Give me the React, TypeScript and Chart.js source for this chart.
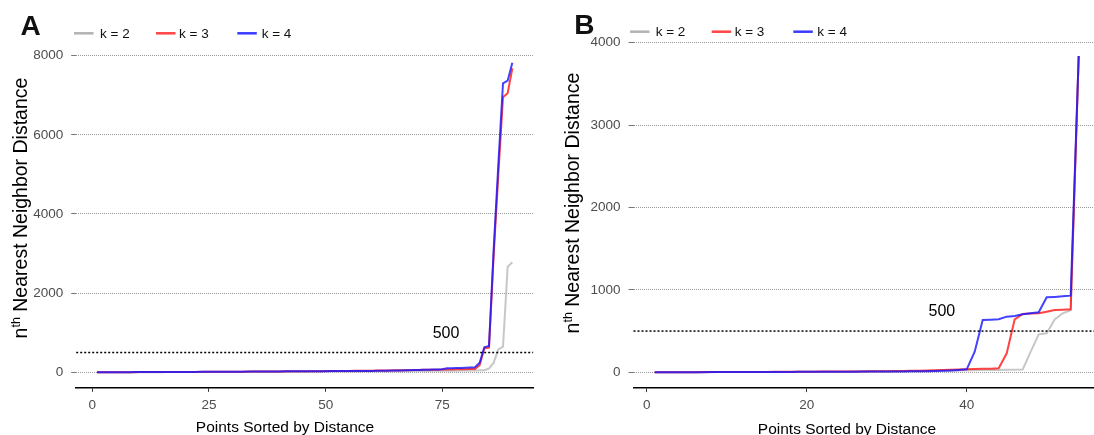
import React, { useEffect, useRef } from "react";
import { Chart, registerables } from "chart.js";
Chart.register(...registerables);

// ---------- data ----------
const seriesLabels = ["k = 2", "k = 3", "k = 4"];
const threshold = 500;

// Panel A (90 points)
const panelA_k2 = [
  0, 0, 0, 1, 1, 1, 2, 2, 2, 3,
  3, 3, 4, 4, 4, 5, 5, 5, 6, 6,
  6, 7, 7, 7, 8, 8, 8, 9, 9, 10,
  10, 10, 11, 11, 12, 12, 13, 13, 14, 14,
  15, 15, 16, 16, 17, 17, 18, 18, 19, 19,
  20, 20, 21, 21, 22, 22, 23, 24, 24, 25,
  26, 26, 27, 28, 29, 30, 31, 32, 33, 34,
  35, 36, 37, 38, 39, 40, 41, 42, 43, 45,
  46, 48, 50, 55, 95, 243, 581, 647, 2668, 2780,
];
const panelA_k3 = [
  0, 1, 1, 2, 2, 3, 3, 4, 4, 5,
  5, 6, 6, 7, 7, 8, 8, 9, 9, 10,
  10, 11, 11, 12, 12, 13, 14, 14, 15, 15,
  16, 17, 17, 18, 19, 19, 20, 21, 21, 22,
  23, 24, 24, 25, 26, 27, 28, 29, 30, 31,
  32, 33, 34, 35, 36, 37, 38, 40, 41, 42,
  44, 45, 47, 48, 50, 52, 54, 56, 58, 60,
  62, 64, 66, 68, 70, 72, 74, 76, 78, 80,
  82, 85, 180, 606, 625, 2950, 5000, 6949, 7050, 7682,
];
const panelA_k4 = [
  1, 1, 2, 2, 3, 3, 4, 4, 5, 5,
  6, 6, 7, 7, 8, 8, 9, 9, 10, 10,
  11, 11, 12, 12, 13, 13, 14, 15, 15, 16,
  17, 17, 18, 19, 19, 20, 21, 22, 22, 23,
  24, 24, 25, 26, 26, 27, 28, 29, 29, 30,
  31, 31, 32, 33, 33, 34, 34, 35, 35, 36,
  37, 39, 41, 43, 45, 47, 50, 53, 56, 60,
  63, 66, 70, 74, 80, 100, 104, 108, 112, 116,
  120, 126, 243, 632, 665, 3100, 5250, 7303, 7368, 7823,
];

// Panel B (54 points)
const panelB_k2 = [
  0, 0, 0, 0, 1, 1, 1, 1, 2, 2,
  2, 2, 3, 3, 3, 4, 4, 4, 5, 5,
  5, 6, 6, 7, 7, 8, 8, 9, 9, 10,
  11, 12, 13, 14, 15, 16, 18, 20, 22, 24,
  26, 27, 28, 29, 30, 32, 34, 250, 460, 473,
  640, 716, 752, 3839,
];
const panelB_k3 = [
  0, 0, 0, 1, 1, 1, 2, 2, 2, 3,
  3, 3, 4, 4, 4, 5, 5, 6, 6, 7,
  7, 8, 8, 9, 9, 10, 11, 12, 13, 14,
  15, 16, 18, 20, 22, 24, 27, 30, 33, 36,
  40, 42, 44, 48, 230, 643, 707, 712, 716, 735,
  756, 760, 765, 3839,
];
const panelB_k4 = [
  0, 0, 0, 1, 1, 1, 1, 2, 2, 2,
  2, 3, 3, 3, 3, 4, 4, 4, 5, 5,
  5, 6, 6, 6, 7, 7, 8, 8, 9, 9,
  10, 11, 12, 13, 14, 16, 18, 22, 28, 36,
  250, 635, 638, 643, 675, 683, 704, 715, 728, 910,
  915, 922, 930, 3839,
];

const panelA_xTicks = [0, 25, 50, 75];
const panelA_yTicks = [0, 2000, 4000, 6000, 8000];
const panelB_xTicks = [0, 20, 40];
const panelB_yTicks = [0, 1000, 2000, 3000, 4000];

// ---------- styles ----------
const FONT = '"Liberation Sans", Arial, Helvetica, sans-serif';
const LINE_COLORS = ["rgba(185,185,185,0.8)", "rgba(255,20,20,0.8)", "rgba(25,25,255,0.82)"];
const LEGEND_COLORS = ["#b3b3b3", "#ff4545", "#3a3aff"];
const H = 435;

type PanelCfg = {
  letter: string;
  series: number[][];
  xTicks: number[];
  yTicks: number[];
  left: number;
  canvasW: number;
  area: { left: number; right: number; top: number; bottom: number };
  letterX: number;
  letterY: number;
  legendY: number;
  legendLineX: number[];
  legendTextX: number[];
  yTitleX: number;
  yTitleCY: number;
  xTitleCX: number;
  xTitleY: number;
  labelX: number;
};

const panels: PanelCfg[] = [
  {
    letter: "A",
    series: [panelA_k2, panelA_k3, panelA_k4],
    xTicks: panelA_xTicks,
    yTicks: panelA_yTicks,
    left: 0,
    canvasW: 547,
    area: { left: 76.2, right: 533.1, top: 47.2, bottom: 387.8 },
    letterX: 20.5,
    letterY: 34.5,
    legendY: 33.3,
    legendLineX: [74, 156, 237.3],
    legendTextX: [100, 179, 261.7],
    yTitleX: 20,
    yTitleCY: 208,
    xTitleCX: 285,
    xTitleY: 432,
    labelX: 75.8,
  },
  {
    letter: "B",
    series: [panelB_k2, panelB_k3, panelB_k4],
    xTicks: panelB_xTicks,
    yTicks: panelB_yTicks,
    left: 547,
    canvasW: 560,
    area: { left: 86.5, right: 552.9, top: 40.1, bottom: 388.1 },
    letterX: 574.3 - 547,
    letterY: 34.3,
    legendY: 31.7,
    legendLineX: [630 - 547, 711.7 - 547, 793.3 - 547],
    legendTextX: [655.7 - 547, 734.7 - 547, 817.3 - 547],
    yTitleX: 572 - 547,
    yTitleCY: 203,
    xTitleCX: 847 - 547,
    xTitleY: 434,
    labelX: 36.9,
  },
];

function makeChart(canvas: HTMLCanvasElement, cfg: PanelCfg) {
  const n = cfg.series[0].length;
  const xr = n - 1;
  const xMin = 1 - 0.05 * xr;
  const xMax = n + 0.05 * xr;
  const allY = cfg.series.flat();
  const yLo = Math.min(...allY);
  const yHi = Math.max(...allY);
  const yr = yHi - yLo;
  const yMin = yLo - 0.05 * yr;
  const yMax = yHi + 0.05 * yr;

  const datasets = cfg.series.map((vals, si) => ({
    label: seriesLabels[si],
    data: vals.map((v, i) => ({ x: i + 1, y: v })),
    borderColor: LINE_COLORS[si],
    backgroundColor: LINE_COLORS[si],
    borderWidth: 2,
    pointRadius: 0,
    pointHoverRadius: 0,
    fill: false,
    tension: 0,
    order: 3 - si,
  }));

  const overlay = {
    id: "overlay" + cfg.letter,
    afterDatasetsDraw(chart: any) {
      const { ctx, chartArea, scales } = chart;
      const yPix = scales.y.getPixelForValue(threshold);
      ctx.save();
      ctx.strokeStyle = "#000";
      ctx.lineWidth = 1.5;
      ctx.setLineDash([2, 2]);
      ctx.beginPath();
      ctx.moveTo(chartArea.left, yPix);
      ctx.lineTo(chartArea.right, yPix);
      ctx.stroke();
      ctx.setLineDash([]);
      ctx.fillStyle = "#000";
      ctx.font = `16px ${FONT}`;
      ctx.textAlign = "center";
      ctx.textBaseline = "alphabetic";
      ctx.fillText(String(threshold), scales.x.getPixelForValue(cfg.labelX), yPix - 15);
      ctx.restore();
    },
    afterDraw(chart: any) {
      const { ctx } = chart;
      ctx.save();
      ctx.fillStyle = "#111";
      ctx.font = `bold 28px ${FONT}`;
      ctx.textAlign = "left";
      ctx.textBaseline = "alphabetic";
      ctx.fillText(cfg.letter, cfg.letterX, cfg.letterY);
      ctx.font = `13.5px ${FONT}`;
      ctx.textBaseline = "middle";
      for (let i = 0; i < seriesLabels.length; i++) {
        ctx.strokeStyle = LEGEND_COLORS[i];
        ctx.lineWidth = 2.5;
        ctx.beginPath();
        ctx.moveTo(cfg.legendLineX[i], cfg.legendY);
        ctx.lineTo(cfg.legendLineX[i] + 19.5, cfg.legendY);
        ctx.stroke();
        ctx.fillStyle = "#111";
        ctx.fillText(seriesLabels[i], cfg.legendTextX[i], cfg.legendY + 0.5);
      }
      ctx.font = `15.5px ${FONT}`;
      ctx.textAlign = "center";
      ctx.textBaseline = "alphabetic";
      ctx.fillStyle = "#000";
      ctx.fillText("Points Sorted by Distance", cfg.xTitleCX, cfg.xTitleY);
      ctx.translate(cfg.yTitleX, cfg.yTitleCY);
      ctx.rotate(-Math.PI / 2);
      const big = `19.5px ${FONT}`;
      const small = `12.5px ${FONT}`;
      ctx.textAlign = "left";
      ctx.font = big;
      const wn = ctx.measureText("n").width;
      const rest = " Nearest Neighbor Distance";
      const wr = ctx.measureText(rest).width;
      ctx.font = small;
      const wth = ctx.measureText("th").width;
      const total = wn + wth + wr;
      let px = -total / 2;
      const base = 6.5;
      ctx.font = big;
      ctx.fillText("n", px, base);
      px += wn;
      ctx.font = small;
      ctx.fillText("th", px, base - 6.5);
      px += wth;
      ctx.font = big;
      ctx.fillText(rest, px, base);
      ctx.restore();
    },
  };

  return new Chart(canvas, {
    type: "line",
    data: { datasets },
    options: {
      responsive: false,
      animation: false,
      devicePixelRatio: 1,
      events: [],
      layout: {
        padding: {
          left: 0,
          top: cfg.area.top,
          right: cfg.canvasW - cfg.area.right,
          bottom: 0,
        },
      },
      plugins: {
        legend: { display: false },
        tooltip: { enabled: false },
        title: { display: false },
      },
      scales: {
        x: {
          type: "linear",
          min: xMin,
          max: xMax,
          afterFit: (s: any) => {
            s.height = H - cfg.area.bottom;
          },
          afterBuildTicks: (s: any) => {
            s.ticks = cfg.xTicks.map((v) => ({ value: v }));
          },
          grid: {
            display: true,
            drawOnChartArea: false,
            drawTicks: true,
            tickLength: 4,
            tickColor: "#333",
            tickWidth: 1,
          },
          border: { display: true, color: "#000", width: 1.5 },
          ticks: {
            color: "#4d4d4d",
            font: { family: FONT, size: 13.5 },
            padding: 5,
            maxRotation: 0,
            autoSkip: false,
            callback: (v: any) => String(v),
          },
        },
        y: {
          type: "linear",
          min: yMin,
          max: yMax,
          afterFit: (s: any) => {
            s.width = cfg.area.left;
          },
          afterBuildTicks: (s: any) => {
            s.ticks = cfg.yTicks.map((v) => ({ value: v }));
          },
          grid: {
            display: true,
            drawOnChartArea: true,
            drawTicks: true,
            tickLength: 5,
            color: "#9a9a9a",
            lineWidth: 1,
            tickColor: "#777",
            tickWidth: 1,
            tickBorderDash: [],
          },
          border: { display: false, dash: [1, 1] },
          ticks: {
            color: "#4d4d4d",
            font: { family: FONT, size: 13.5 },
            padding: 8,
            autoSkip: false,
            callback: (v: any) => String(v),
          },
        },
      },
    },
    plugins: [overlay],
  } as any);
}

function Panel({ cfg }: { cfg: PanelCfg }) {
  const ref = useRef<HTMLCanvasElement | null>(null);
  useEffect(() => {
    if (!ref.current) return;
    const chart = makeChart(ref.current, cfg);
    return () => chart.destroy();
  }, [cfg]);
  return (
    <canvas
      ref={ref}
      width={cfg.canvasW}
      height={H}
      style={{
        position: "absolute",
        left: cfg.left,
        top: 0,
        width: cfg.canvasW,
        height: H,
      }}
    />
  );
}

export default function App() {
  return (
    <div
      style={{
        position: "absolute",
        left: 0,
        top: 0,
        width: 1094,
        height: H,
        overflow: "hidden",
        background: "#fff",
      }}
    >
      {panels.map((p) => (
        <Panel key={p.letter} cfg={p} />
      ))}
    </div>
  );
}
